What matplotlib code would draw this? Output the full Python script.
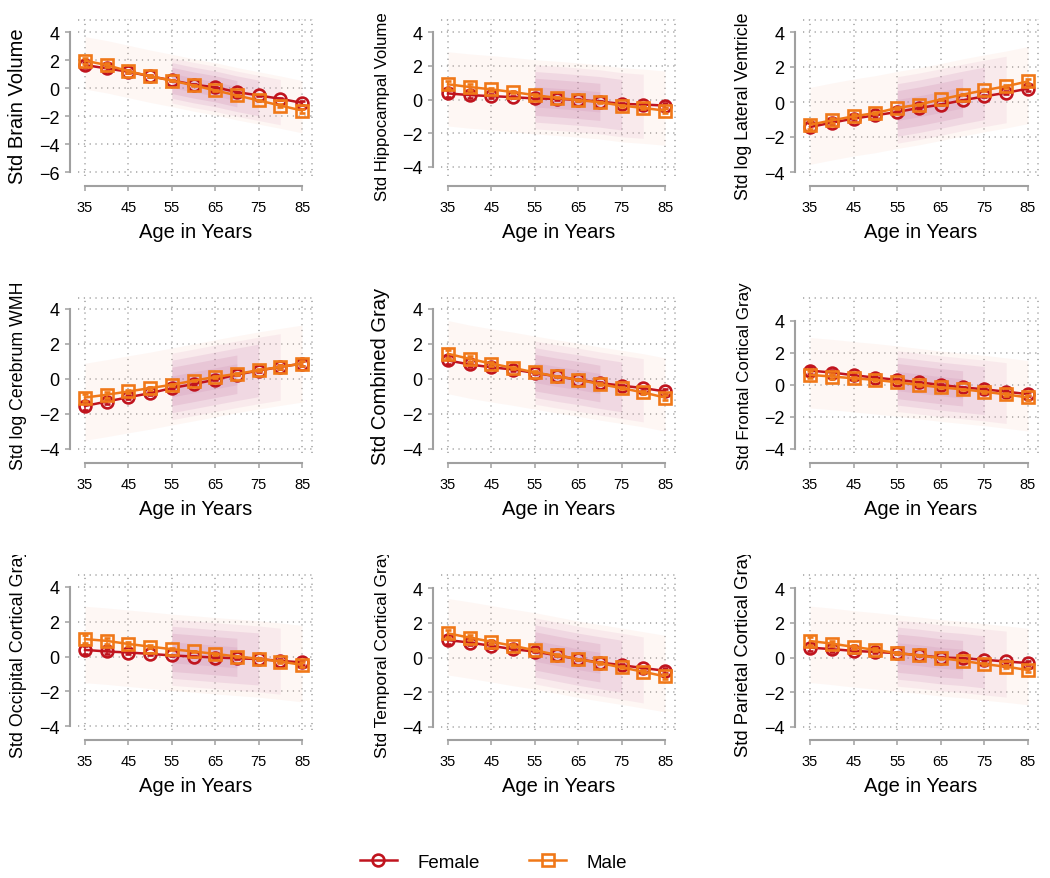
import matplotlib.pyplot as plt
import numpy as np
from matplotlib.lines import Line2D
from matplotlib.transforms import Bbox, TransformedBbox

plt.rcParams['font.family'] = ['Liberation Sans', 'DejaVu Sans']

ages = [35, 40, 45, 50, 55, 60, 65, 70, 75, 80, 85]
xticks = [35, 45, 55, 65, 75, 85]

labels = ['Std Brain Volume', 'Std Hippocampal Volume', 'Std log Lateral Ventricle',
          'Std log Cerebrum WMH', 'Std Combined Gray', 'Std Frontal Cortical Gray',
          'Std Occipital Cortical Gray', 'Std Temporal Cortical Gray', 'Std Parietal Cortical Gray']

# mean curves, one list per sex and measure
f_brain = [1.64, 1.40, 1.16, 0.84, 0.55, 0.24, 0.05, -0.29, -0.53, -0.77, -1.06]
m_brain = [1.95, 1.64, 1.20, 0.84, 0.53, 0.19, -0.17, -0.53, -0.89, -1.25, -1.61]
f_hippo = [0.36, 0.26, 0.20, 0.14, 0.06, 0.04, -0.02, -0.12, -0.26, -0.30, -0.36]
m_hippo = [0.90, 0.74, 0.60, 0.44, 0.26, 0.10, -0.04, -0.16, -0.36, -0.50, -0.66]
f_vent = [-1.43, -1.18, -0.95, -0.76, -0.57, -0.34, -0.15, 0.10, 0.32, 0.53, 0.76]
m_vent = [-1.30, -1.05, -0.82, -0.63, -0.34, -0.15, 0.15, 0.42, 0.67, 0.90, 1.18]
f_wmh = [-1.54, -1.29, -1.04, -0.81, -0.52, -0.29, -0.04, 0.25, 0.48, 0.69, 0.88]
m_wmh = [-1.06, -0.90, -0.71, -0.52, -0.33, -0.10, 0.12, 0.29, 0.50, 0.69, 0.88]
f_gray = [1.06, 0.83, 0.67, 0.54, 0.35, 0.15, -0.04, -0.23, -0.38, -0.52, -0.71]
m_gray = [1.44, 1.15, 0.88, 0.63, 0.38, 0.15, -0.04, -0.29, -0.52, -0.77, -1.06]
f_front = [0.90, 0.78, 0.61, 0.46, 0.32, 0.17, 0.00, -0.15, -0.27, -0.42, -0.57]
m_front = [0.63, 0.53, 0.42, 0.32, 0.17, 0.00, -0.15, -0.27, -0.42, -0.59, -0.78]
f_occ = [0.38, 0.29, 0.23, 0.15, 0.06, 0.00, -0.06, -0.10, -0.15, -0.25, -0.34]
m_occ = [1.00, 0.90, 0.72, 0.57, 0.42, 0.29, 0.15, 0.00, -0.13, -0.29, -0.48]
f_temp = [1.00, 0.86, 0.67, 0.48, 0.34, 0.13, -0.10, -0.29, -0.44, -0.61, -0.76]
m_temp = [1.39, 1.14, 0.91, 0.67, 0.42, 0.15, -0.10, -0.32, -0.57, -0.82, -1.09]
f_par = [0.57, 0.48, 0.38, 0.32, 0.25, 0.13, 0.00, -0.04, -0.13, -0.23, -0.32]
m_par = [0.95, 0.80, 0.61, 0.44, 0.25, 0.13, -0.04, -0.19, -0.38, -0.53, -0.72]

# rough confidence half widths (small, mostly hidden inside the markers)
ci = [0.22, 0.16, 0.11, 0.08, 0.05, 0.04, 0.04, 0.04, 0.06, 0.09, 0.14]
# spread of the individual points around the curves
spread = [0.85, 1.0, 1.0, 1.0, 0.95, 1.0, 1.0, 1.0, 1.0]

female = [f_brain, f_hippo, f_vent, f_wmh, f_gray, f_front, f_occ, f_temp, f_par]
male = [m_brain, m_hippo, m_vent, m_wmh, m_gray, m_front, m_occ, m_temp, m_par]

fcol = '#c0141e'
mcol = '#f07818'
gray = '#a0a0a0'
dots = (0, (0.8, 3.0))

W, H = 1050, 879
fig = plt.figure(figsize=(W / 100, H / 100), dpi=100)

# pixel layout of each panel
col_x35 = [85, 448, 810]
col_x85 = [302, 665, 1028]
row_top = [20, 298, 575]
row_bot = [177, 454, 731]
row_clip = [(0, 272), (272, 556), (556, 820)]
max_label = [188, 188, 210]
tick4_px = [33, 33, 33, 310, 310, 322, 588, 589, 589]
tickb_px = [173, 168, 173, 450, 450, 450, 727, 728, 728]
bottom_val = [-6, -4, -4, -4, -4, -4, -4, -4, -4]

# (first index, last index, width in sd, colour, alpha) for the faint point cloud
layers = [(0, 11, 2.2, '#f6b8a0', 0.11),
          (4, 10, 1.9, '#dca0c0', 0.14),
          (4, 9, 1.5, '#c77fae', 0.16),
          (4, 8, 1.1, '#b85c93', 0.14),
          (4, 8, 0.6, '#b05590', 0.10)]

axes = []
for i in range(9):
    r, c = divmod(i, 3)
    x35, x85 = col_x35[c], col_x85[c]
    left, right = x35 - 7, x85 + 11
    top, bot = row_top[r], row_bot[r]
    ax = fig.add_axes([left / W, 1 - bot / H, (right - left) / W, (bot - top) / H])
    axes.append(ax)

    xs = (x85 - x35) / 50.0
    ax.set_xlim(35 - 7 / xs, 85 + 11 / xs)
    bv = bottom_val[i]
    ys = (tickb_px[i] - tick4_px[i]) / (4.0 - bv)
    ylo, yhi = bv - (bot - tickb_px[i]) / ys, 4 + (tick4_px[i] - top) / ys
    ax.set_ylim(ylo, yhi)

    yt = list(range(4, bv - 1, -2))
    # dotted grid
    for x in xticks:
        ax.axvline(x, color=gray, lw=1.1, ls=dots, zorder=0)
    for y in yt:
        ax.axhline(y, color=gray, lw=1.1, ls=dots, zorder=0)
    ax.axhline(yhi - 0.05, color=gray, lw=1.1, ls=dots, zorder=0)
    ax.axvline(85 + 10 / xs, color=gray, lw=1.1, ls=dots, zorder=0)

    # cloud of individual points, drawn as stacked faint bands
    cen = (np.array(female[i]) + np.array(male[i])) / 2
    sd = spread[i]
    a = np.array(ages)
    for j0, j1, w, col, al in layers:
        ax.fill_between(a[j0:j1], cen[j0:j1] - w * sd, cen[j0:j1] + w * sd,
                        color=col, alpha=al, lw=0, zorder=1)

    ax.errorbar(ages, female[i], yerr=ci, fmt='-o', color=fcol, mfc='none', ms=8.5, mew=1.9,
                lw=1.8, elinewidth=1.1, capsize=2.5, capthick=1.1, zorder=3)
    ax.errorbar(ages, male[i], yerr=ci, fmt='-s', color=mcol, mfc='none', ms=8.5, mew=1.9,
                lw=1.8, elinewidth=1.1, capsize=2.5, capthick=1.1, zorder=4)

    for s in ['top', 'right']:
        ax.spines[s].set_visible(False)
    ax.spines['left'].set_position(('outward', 5.8))
    ax.spines['bottom'].set_position(('outward', 7))
    ax.spines['left'].set_bounds(bv, 4)
    ax.spines['bottom'].set_bounds(35, 85)
    for s in ['left', 'bottom']:
        ax.spines[s].set_color(gray)
        ax.spines[s].set_linewidth(1.5)
    ax.set_yticks(yt)
    ax.set_xticks(xticks)
    ax.tick_params(axis='y', direction='out', length=3.6, width=1.1, color=gray, labelsize=13, pad=4)
    ax.tick_params(axis='x', direction='out', length=3.6, width=1.1, color=gray, labelsize=10.5, pad=7)

    ax.set_xlabel('Age in Years', fontsize=14.5)
    ax.set_ylabel(labels[i], fontsize=14.5)
    hpx = bot - top
    ax.xaxis.set_label_coords(0.5, -46 / hpx)
    ax.yaxis.set_label_coords(-51 / (right - left), 0.45 if r == 0 else 0.5)
    y0, y1 = row_clip[r]
    lab = ax.yaxis.label
    lab.set_clip_on(True)
    lab.set_clip_box(TransformedBbox(Bbox.from_extents(0, 1 - y1 / H, 1, 1 - y0 / H), fig.transFigure))

# long y labels are shrunk to fit, like in the original
renderer = fig.canvas.get_renderer()
for i, ax in enumerate(axes):
    lab = ax.yaxis.label
    h = lab.get_window_extent(renderer).height
    lim = max_label[i // 3]
    if h > lim:
        lab.set_fontsize(14.5 * lim / h)

handles = [Line2D([], [], color=fcol, marker='o', mfc='none', ms=8.5, mew=1.9, lw=1.8),
           Line2D([], [], color=mcol, marker='s', mfc='none', ms=8.5, mew=1.9, lw=1.8)]
fig.legend(handles, ['Female', 'Male'], loc='center', bbox_to_anchor=(0.47, 1 - 863 / H),
           ncol=2, frameon=False, fontsize=13.5, handlelength=2.0, handletextpad=1.1,
           columnspacing=2.6)

fig.savefig('out.png', dpi=100)
